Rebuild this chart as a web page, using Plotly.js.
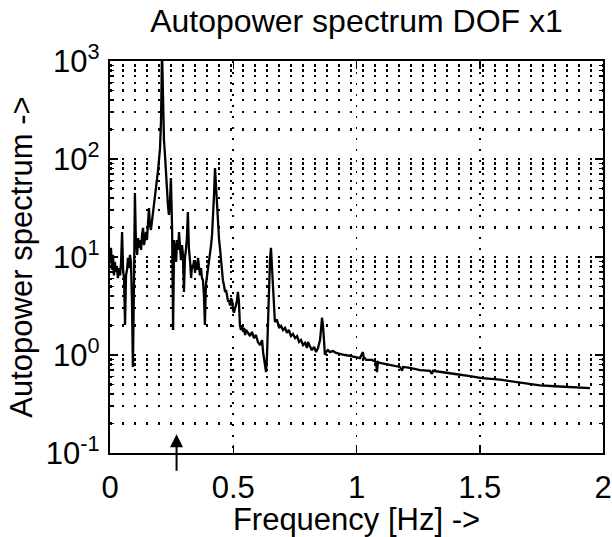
<!DOCTYPE html>
<html>
<head>
<meta charset="utf-8">
<script src="https://cdn.plot.ly/plotly-3.0.1.min.js"></script>
<style>html,body{margin:0;padding:0;background:#fff;}#chart{width:612px;height:537px;}</style>
</head>
<body>
<div id="chart"></div>
<script>
// Frequency [Hz]
var freq = [0,0.004,0.008,0.012,0.016,0.020,0.024,0.028,0.032,0.037,0.041,0.045,0.049,0.053,0.057,0.061,0.065,0.069,0.073,0.077,0.081,0.085,0.089,0.093,0.097,0.101,0.105,0.110,0.114,0.118,0.122,0.126,0.130,0.134,0.138,0.142,0.146,0.150,0.154,0.158,0.162,0.166,0.170,0.178,0.187,0.195,0.203,0.207,0.211,0.215,0.219,0.223,0.227,0.231,0.235,0.239,0.243,0.247,0.252,0.256,0.260,0.264,0.268,0.272,0.276,0.280,0.284,0.288,0.292,0.296,0.300,0.304,0.308,0.312,0.316,0.320,0.325,0.329,0.333,0.337,0.341,0.345,0.349,0.353,0.357,0.361,0.365,0.369,0.373,0.377,0.381,0.385,0.389,0.394,0.398,0.402,0.406,0.410,0.414,0.418,0.422,0.426,0.430,0.434,0.438,0.442,0.446,0.450,0.454,0.458,0.462,0.467,0.471,0.475,0.479,0.483,0.487,0.491,0.495,0.499,0.503,0.507,0.511,0.515,0.519,0.523,0.527,0.531,0.535,0.540,0.544,0.548,0.552,0.560,0.568,0.576,0.584,0.592,0.600,0.609,0.617,0.621,0.625,0.629,0.633,0.637,0.641,0.645,0.649,0.653,0.657,0.661,0.665,0.669,0.677,0.686,0.694,0.702,0.710,0.718,0.726,0.734,0.742,0.751,0.759,0.767,0.775,0.783,0.791,0.799,0.803,0.811,0.819,0.828,0.836,0.844,0.852,0.856,0.860,0.864,0.868,0.872,0.876,0.884,0.892,0.905,0.917,0.933,0.953,0.974,0.994,1.014,1.026,1.030,1.034,1.039,1.063,1.079,1.083,1.087,1.095,1.116,1.128,1.156,1.176,1.185,1.189,1.217,1.258,1.298,1.306,1.310,1.339,1.400,1.460,1.509,1.582,1.671,1.744,1.805,1.886,1.947];
// Autopower spectrum values
var power = [8.9,12.4,7.4,10.5,6.5,8.9,7.0,8.1,6.1,7.7,6.5,8.9,18.0,7.4,6.1,2.02,6.5,7.4,9.8,7.7,10.5,8.9,3.6,0.755,4.6,45,14.9,10.5,15.6,12.4,14.9,11.8,16.8,19.8,13.2,15.6,18.0,14.9,19.8,31.6,21.2,18.9,22.8,34,48,77,129,250,1300,400,156,110,69,48,34,26.9,34,64,18.9,1.80,14.9,11.8,8.9,14.9,11.8,18.0,13.2,9.3,13.2,10.5,4.4,9.8,11.8,15.6,28.8,12.4,8.9,6.1,8.3,7.7,9.3,7.0,8.9,7.4,9.8,7.4,6.5,7.7,6.1,5.8,4.1,2.02,5.2,6.5,7.7,8.9,10.5,13.2,16.8,23.9,43,81,54,30.2,21.2,15.6,12.4,9.3,7.0,5.8,5.2,4.4,4.6,3.8,3.5,3.6,3.2,3.8,3.6,2.9,2.7,3.0,3.2,3.6,4.4,3.5,2.02,1.80,2.02,1.72,1.89,1.60,1.80,1.68,1.56,1.72,1.49,1.60,1.36,1.26,1.42,1.07,0.89,0.70,0.67,1.0,2.3,5.2,9.3,12.4,8.3,4.6,2.9,2.17,2.3,1.89,1.98,1.80,1.89,1.68,1.80,1.56,1.64,1.49,1.56,1.36,1.42,1.26,1.33,1.18,1.36,1.24,1.12,1.21,1.07,1.18,1.42,1.80,2.4,2.02,1.26,1.0,1.07,1.12,1.07,1.10,1.05,1.02,1.0,0.98,0.955,0.93,1.07,0.93,0.93,0.89,0.89,0.85,0.67,0.85,0.83,0.81,0.81,0.77,0.755,0.69,0.755,0.74,0.70,0.69,0.64,0.69,0.67,0.64,0.61,0.58,0.56,0.52,0.49,0.48,0.47,0.46];
// Axis tick labels
var xTickVals = [0, 0.5, 1, 1.5, 2];
var xTickText = ['0', '0.5', '1', '1.5', '2'];
var yTickVals = [0.1, 1, 10, 100, 1000];
var yTickText = ['10<sup>-1</sup>', '10<sup>0</sup>', '10<sup>1</sup>', '10<sup>2</sup>', '10<sup>3</sup>'];
var arrowFreq = 0.27;

var minorVals = [];
[0.1, 1, 10, 100].forEach(function (d) { for (var k = 2; k <= 9; k++) minorVals.push(k * d); });

var FONT = 'Liberation Sans, Arial, Helvetica, sans-serif';

var trace = {
  x: freq, y: power, type: 'scatter', mode: 'lines',
  line: {color: '#000', width: 2.3}, hoverinfo: 'skip'
};

var layout = {
  width: 612, height: 537,
  margin: {l: 110, r: 9, t: 61, b: 84},
  paper_bgcolor: '#fff', plot_bgcolor: '#fff',
  showlegend: false,
  font: {family: FONT, color: '#000', size: 30},
  title: {text: 'Autopower spectrum DOF x1', font: {family: FONT, size: 32, color: '#000'},
          x: 0.5, xref: 'paper', y: 0.962, yref: 'container', yanchor: 'middle'},
  xaxis: {
    range: [0, 2], tickmode: 'array', tickvals: xTickVals, ticktext: xTickText,
    ticks: 'inside', ticklen: 8, tickwidth: 1.5, tickcolor: '#000',
    showline: true, linecolor: '#000', linewidth: 2.2, mirror: 'ticks',
    showgrid: true, gridcolor: '#000', gridwidth: 1.8, griddash: '2px,9px',
    zeroline: false, ticklabelstandoff: 6,
    tickfont: {family: FONT, size: 31, color: '#000'},
    title: {text: 'Frequency [Hz] ->', font: {family: FONT, size: 31, color: '#000'}, standoff: 0}
  },
  yaxis: {
    type: 'log', range: [-1, 3], tickmode: 'array', tickvals: yTickVals, ticktext: yTickText,
    ticks: 'inside', ticklen: 8, tickwidth: 1.5, tickcolor: '#000',
    showline: true, linecolor: '#000', linewidth: 2.2, mirror: 'ticks',
    showgrid: true, gridcolor: '#000', gridwidth: 2.4, griddash: '2px,10px',
    zeroline: false, ticklabelstandoff: 2,
    tickfont: {family: FONT, size: 31, color: '#000'},
    minor: {tickmode: 'array', tickvals: minorVals, ticks: 'inside', ticklen: 4, tickcolor: '#000',
            showgrid: true, gridcolor: '#000', gridwidth: 2.4, griddash: '2px,10px'},
    title: {text: 'Autopower spectrum ->', font: {family: FONT, size: 31, color: '#000'}, standoff: 4}
  },
  annotations: [{
    x: arrowFreq, xref: 'x', y: 0.048, yref: 'paper', text: '',
    showarrow: true, ax: 0, ay: 38, arrowhead: 2, arrowsize: 1.3, arrowwidth: 2, arrowcolor: '#000'
  }]
};

Plotly.newPlot('chart', [trace], layout, {staticPlot: true, displayModeBar: false});
</script>
</body>
</html>
